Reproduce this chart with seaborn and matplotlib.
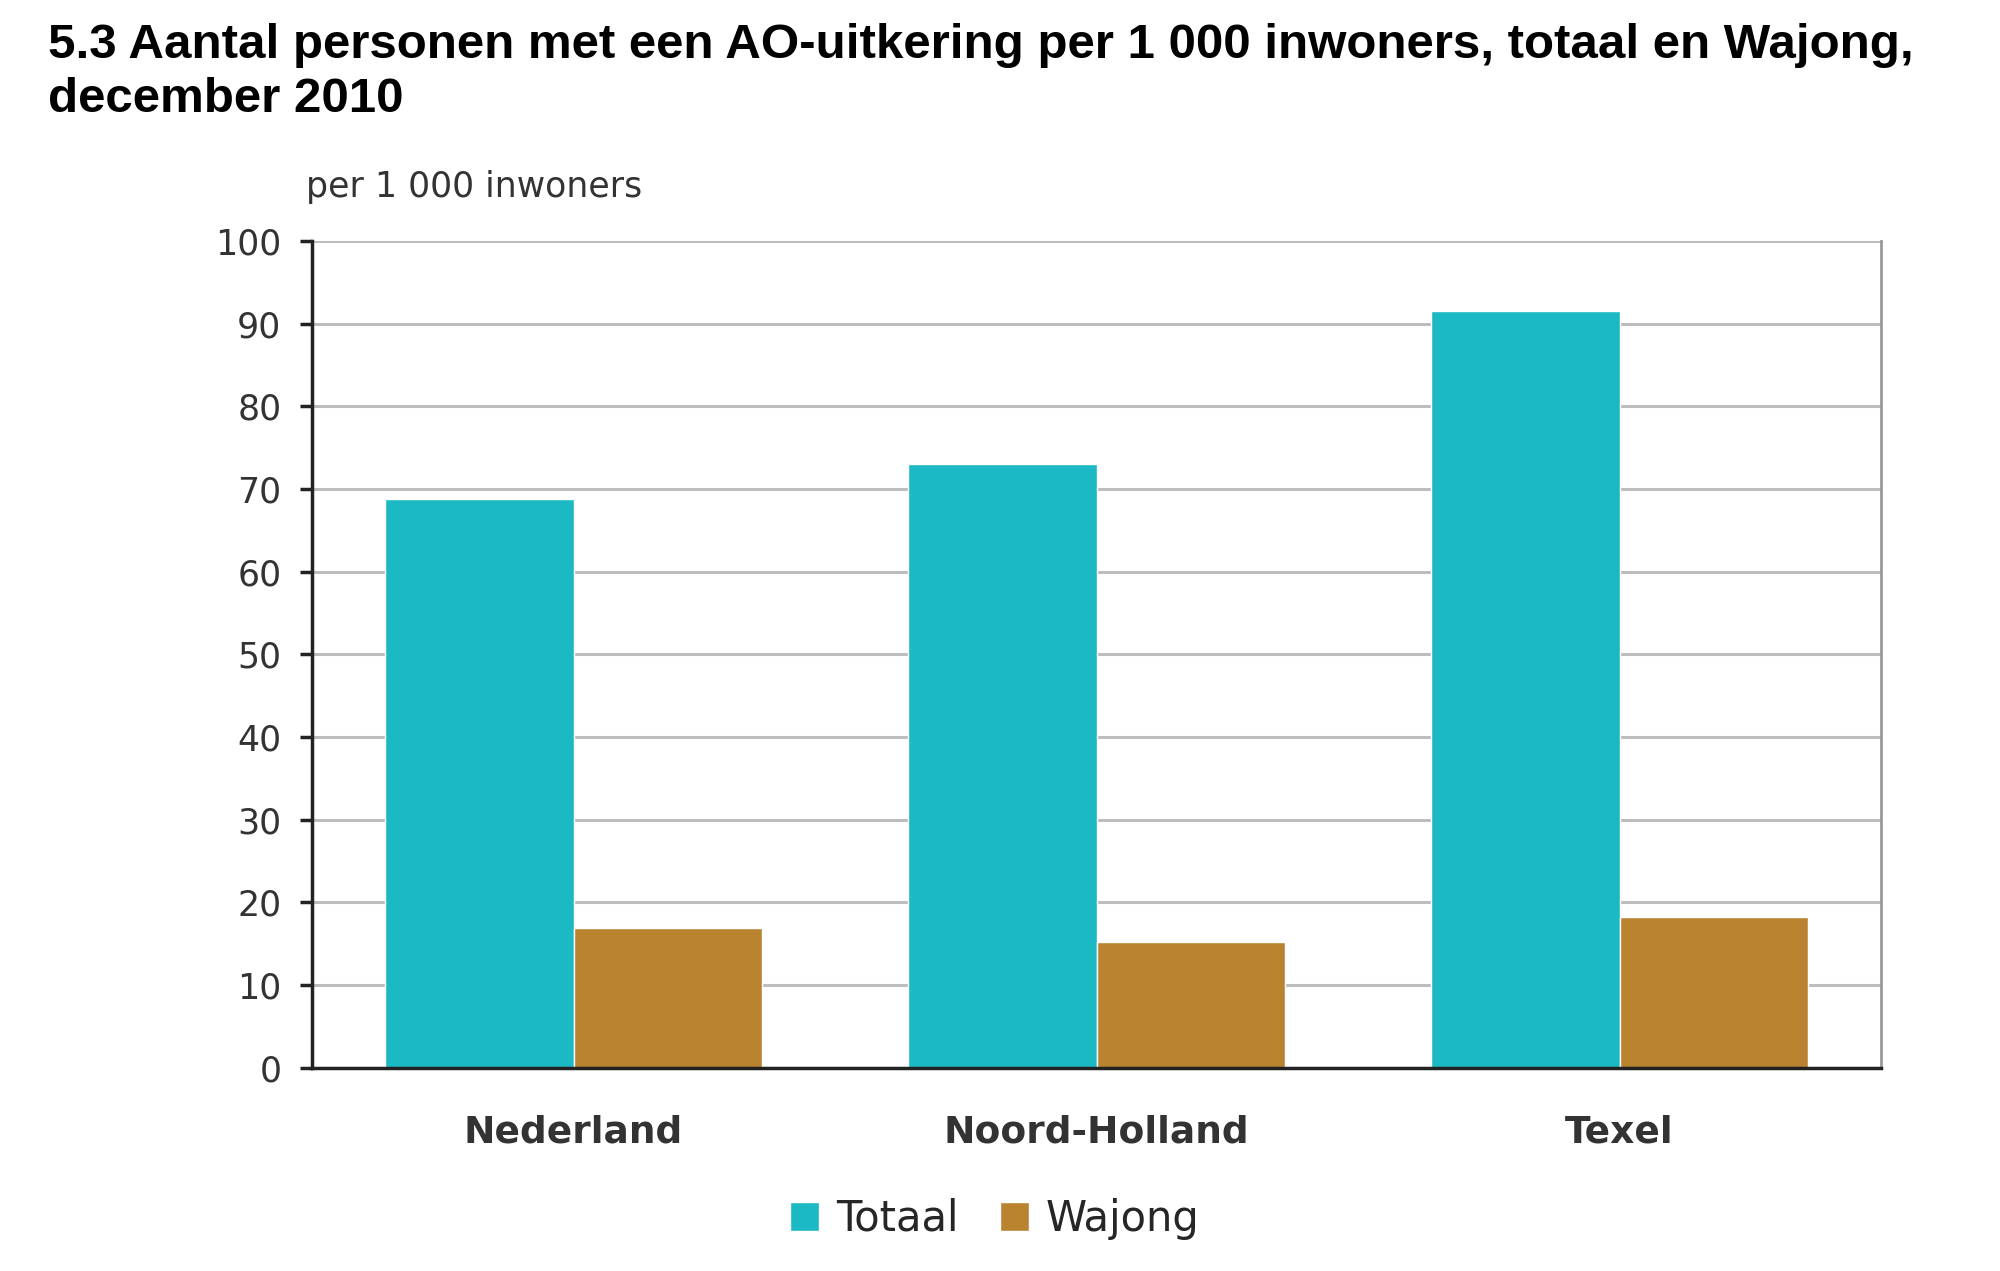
import matplotlib

matplotlib.use("Agg")
import matplotlib.pyplot as plt
import pandas as pd
import seaborn as sns
from matplotlib.patches import Patch

regions = ["Nederland", "Noord-Holland", "Texel"]
series = ["Totaal", "Wajong"]
totaal = [68.8, 73.0, 91.5]
wajong = [16.9, 15.2, 18.2]
y_ticks = [0, 10, 20, 30, 40, 50, 60, 70, 80, 90, 100]

colors = {"Totaal": "#1BB9C4", "Wajong": "#BA8330"}

df = pd.DataFrame({
    "regio": regions * 2,
    "reeks": ["Totaal"] * 3 + ["Wajong"] * 3,
    "waarde": totaal + wajong,
})

sns.set_theme(style="white")
plt.rcParams["font.family"] = ["DejaVu Sans"]

fig = plt.figure(figsize=(20, 12.71), dpi=100)
ax = fig.add_axes([0.156, 0.160, 0.7845, 0.6504])

sns.barplot(data=df, x="regio", y="waarde", hue="reeks", order=regions,
            hue_order=series, palette=colors, width=0.72, saturation=1,
            ax=ax, legend=False)

ax.set_ylim(0, 100)
ax.set_xlim(-0.5, 2.5)
ax.set_yticks(y_ticks)
ax.yaxis.grid(True, color="#bdbdbd", linewidth=2.2)
ax.set_axisbelow(True)
ax.set_xlabel("")
ax.set_ylabel("")

ax.spines["top"].set_visible(False)
ax.spines["right"].set_color("#999999")
ax.spines["right"].set_linewidth(2)
for side in ["left", "bottom"]:
    ax.spines[side].set_color("#222222")
    ax.spines[side].set_linewidth(2.5)

ax.tick_params(axis="y", which="major", left=True, length=9, width=2.5,
               color="#222222", labelsize=25, labelcolor="#333333", pad=13)
ax.tick_params(axis="x", bottom=False, labelsize=27, labelcolor="#333333", pad=28)
for lbl in ax.get_xticklabels():
    lbl.set_fontweight("bold")

ax.text(-0.004, 1.045, "per 1 000 inwoners", transform=ax.transAxes,
        fontsize=25, color="#333333", ha="left", va="bottom")

fig.text(0.024, 0.982, "5.3 Aantal personen met een AO-uitkering per 1 000 inwoners, totaal en Wajong,\ndecember 2010",
         fontsize=35.5, fontweight="bold", family="Liberation Sans", ha="left", va="top",
         linespacing=1.27, color="black")

handles = [Patch(facecolor=colors[s], label=s) for s in series]
fig.legend(handles=handles, loc="center", bbox_to_anchor=(0.4975, 0.041), ncol=2,
           frameon=False, fontsize=30, handlelength=0.7, handleheight=0.7,
           handletextpad=0.4, columnspacing=1.0)

fig.savefig("out.png", dpi=100)
